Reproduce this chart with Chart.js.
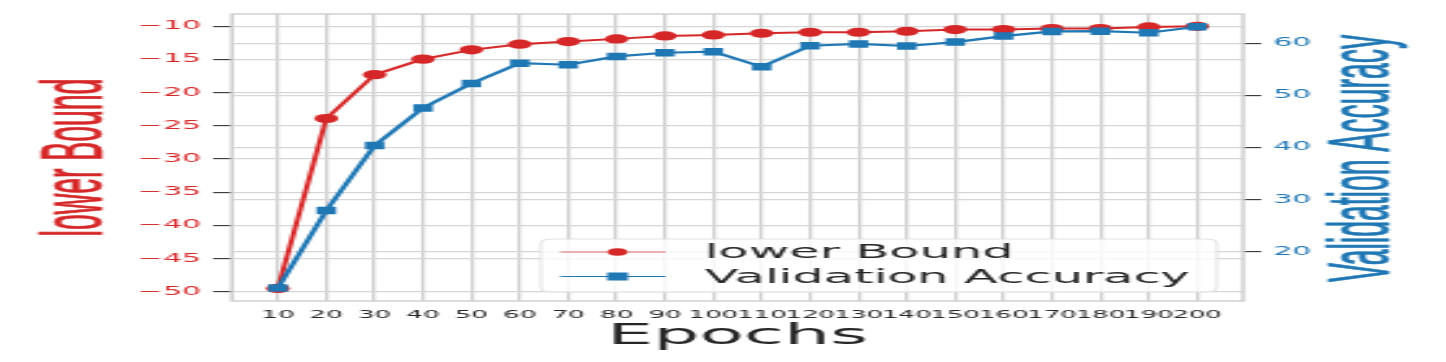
<!DOCTYPE html>
<html>
<head>
<meta charset="utf-8">
<script src="https://cdn.jsdelivr.net/npm/chart.js@4.4.1/dist/chart.umd.min.js"></script>
<style>
html, body { margin: 0; padding: 0; background: #fff; overflow: hidden; }
#wrap { width: 1446px; height: 362px; }
#chart { transform: scaleX(2.6); transform-origin: 0 0; }
</style>
</head>
<body>
<div id="wrap"><canvas id="chart" width="556" height="362"></canvas></div>
<script>
// data
const epochs = [10, 20, 30, 40, 50, 60, 70, 80, 90, 100, 110, 120, 130, 140, 150, 160, 170, 180, 190, 200];
const lowerBound = [-49.5, -23.9, -17.3, -14.95, -13.55, -12.7, -12.3, -11.9, -11.45, -11.3,
	-11.05, -10.9, -10.9, -10.75, -10.5, -10.5, -10.35, -10.35, -10.1, -10.0];
const valAccuracy = [13.0, 27.9, 40.4, 47.6, 52.3, 56.2, 55.9, 57.5, 58.2, 58.4,
	55.5, 59.55, 59.9, 59.5, 60.25, 61.4, 62.3, 62.35, 62.05, 63.2];
const lowerTicks = [-10, -15, -20, -25, -30, -35, -40, -45, -50];
const accTicks = [20, 30, 40, 50, 60];

const RED = '#d62728';
const BLUE = '#1f77b4';
const INK = '#262626';
const GRID = '#d6d6d6';
const FONT = '"DejaVu Sans", sans-serif';

function pairs(ys) {
	return epochs.map(function(x, i) { return {x: x, y: ys[i]}; });
}

function setTicks(values) {
	return function(scale) {
		scale.ticks = values.map(function(v) { return {value: v}; });
	};
}

function drawVertical(ctx, text, baseX, cy, color) {
	//rotated y label, reads bottom to top
	ctx.save();
	ctx.translate(baseX, cy);
	ctx.rotate(-Math.PI / 2);
	ctx.scale(0.86, 1);
	ctx.font = '33px "Liberation Sans", Arial, sans-serif';
	ctx.fillStyle = color;
	ctx.strokeStyle = color;
	ctx.lineWidth = 0.6;
	ctx.textAlign = 'center';
	ctx.textBaseline = 'alphabetic';
	ctx.fillText(text, 0, 0);
	ctx.strokeText(text, 0, 0);
	ctx.restore();
}

const decor = {
	id: 'decor',
	beforeDatasetsDraw: function(chart) {
		//frame around the plot
		const a = chart.chartArea;
		const ctx = chart.ctx;
		ctx.save();
		ctx.strokeStyle = '#cdcdcd';
		ctx.lineWidth = 1.4;
		ctx.strokeRect(a.left, a.top, a.right - a.left, a.bottom - a.top);
		ctx.restore();
	},
	afterDatasetsDraw: function(chart) {
		const ctx = chart.ctx;
		//legend box
		ctx.save();
		const bx = 208, by = 239, bw = 260, bh = 53, r = 4;
		ctx.beginPath();
		ctx.roundRect(bx, by, bw, bh, r);
		ctx.fillStyle = 'rgba(255,255,255,0.8)';
		ctx.fill();
		ctx.strokeStyle = '#dcdcdc';
		ctx.lineWidth = 0.8;
		ctx.stroke();

		const rows = [
			{label: 'lower Bound', color: RED, y: 252, shape: 'circle'},
			{label: 'Validation Accuracy', color: BLUE, y: 276.5, shape: 'square'}
		];
		rows.forEach(function(row) {
			ctx.strokeStyle = row.color;
			ctx.globalAlpha = row.shape === 'circle' ? 0.7 : 1;
			ctx.lineWidth = 1.2;
			ctx.beginPath();
			ctx.moveTo(215.5, row.y);
			ctx.lineTo(256, row.y);
			ctx.stroke();
			ctx.globalAlpha = 1;
			ctx.fillStyle = row.color;
			if (row.shape === 'circle') {
				ctx.beginPath();
				ctx.arc(237.5, row.y, 3.8, 0, Math.PI * 2);
				ctx.fill();
			} else {
				ctx.fillRect(233.5, row.y - 4, 8, 8);
			}
			ctx.fillStyle = INK;
			ctx.font = '19px ' + FONT;
			ctx.textAlign = 'left';
			ctx.textBaseline = 'alphabetic';
			ctx.fillText(row.label, 271, row.y + 6);
		});
		ctx.restore();
	},
	afterDraw: function(chart) {
		const ctx = chart.ctx;
		drawVertical(ctx, 'lower Bound', 39.3, 157.5, RED);
		drawVertical(ctx, 'Validation Accuracy', 533.8, 158.5, BLUE);
	}
};

const ctx = document.getElementById('chart');
new Chart(ctx, {
	type: 'line',
	data: {
		datasets: [{
			label: 'lower Bound',
			data: pairs(lowerBound),
			yAxisID: 'yLeft',
			borderColor: RED,
			backgroundColor: RED,
			borderWidth: 2,
			pointStyle: 'circle',
			pointRadius: 4.6,
			pointBorderWidth: 0,
			pointBackgroundColor: RED,
			tension: 0,
			order: 2
		}, {
			label: 'Validation Accuracy',
			data: pairs(valAccuracy),
			yAxisID: 'yRight',
			borderColor: BLUE,
			backgroundColor: BLUE,
			borderWidth: 2.2,
			pointStyle: 'rect',
			pointRadius: 5.3,
			pointBorderWidth: 0,
			pointBackgroundColor: BLUE,
			tension: 0,
			order: 1
		}]
	},
	options: {
		responsive: false,
		animation: false,
		devicePixelRatio: 1,
		layout: {padding: {top: 14, right: 0, bottom: 0, left: 0}},
		plugins: {legend: {display: false}, tooltip: {enabled: false}},
		scales: {
			x: {
				type: 'linear',
				min: 0.5,
				max: 209.5,
				afterBuildTicks: setTicks(epochs),
				afterFit: function(scale) { scale.height = 61; },
				border: {display: false},
				grid: {color: '#cfcfcf', lineWidth: 1.3, drawTicks: false},
				ticks: {
					autoSkip: false, maxRotation: 0, minRotation: 0,
					padding: 8.5, color: INK,
					font: {family: FONT, size: 10},
					callback: function(v) { return String(v); }
				},
				title: {
					display: true, text: 'Epochs', color: INK,
					font: {family: FONT, size: 28},
					padding: {top: 0, bottom: 8}
				}
			},
			yLeft: {
				type: 'linear',
				position: 'left',
				min: -51.4,
				max: -8.15,
				afterBuildTicks: setTicks(lowerTicks),
				afterFit: function(scale) { scale.width = 89.2; },
				border: {display: false},
				grid: {color: GRID, lineWidth: 1.2, drawTicks: true, tickLength: 7.3, tickColor: '#333333', tickWidth: 1.1},
				ticks: {
					padding: 4.6, color: RED,
					font: {family: FONT, size: 11.5},
					callback: function(v) { return '\u2212' + Math.abs(v); }
				}
			},
			yRight: {
				type: 'linear',
				position: 'right',
				min: 10.5,
				max: 65.65,
				afterBuildTicks: setTicks(accTicks),
				afterFit: function(scale) { scale.width = 77.9; },
				border: {display: false},
				grid: {color: GRID, lineWidth: 1.2, drawTicks: true, tickLength: 7, tickColor: '#333333', tickWidth: 1.1},
				ticks: {
					padding: 4.6, color: BLUE,
					font: {family: FONT, size: 11.5},
					callback: function(v) { return String(v); }
				}
			}
		}
	},
	plugins: [decor]
});
</script>
</body>
</html>
